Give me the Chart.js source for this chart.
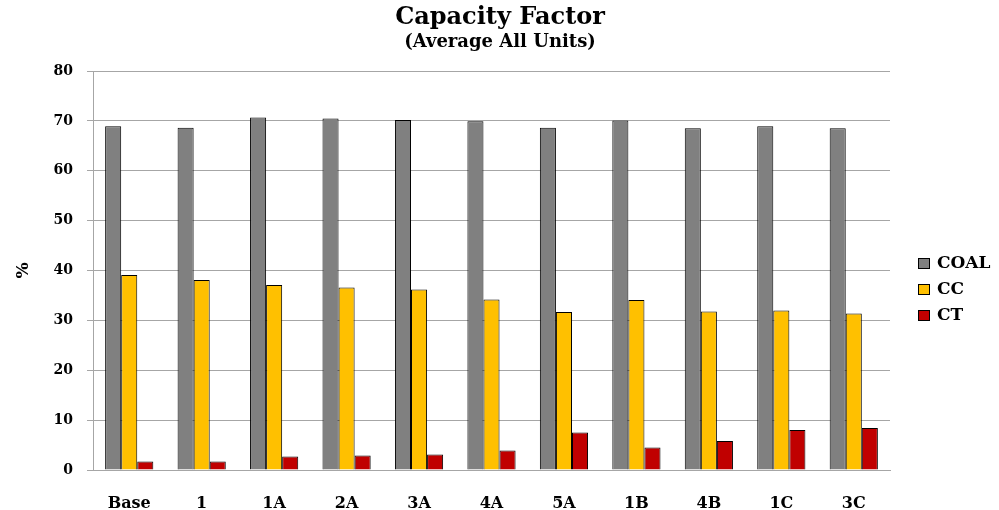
<!DOCTYPE html>
<html>
<head>
<meta charset="utf-8">
<script src="https://cdn.jsdelivr.net/npm/chart.js@4.4.1/dist/chart.umd.min.js"></script>
<style>
  html, body { margin: 0; padding: 0; background: #fff; }
  #wrap { width: 999px; height: 510px; }
</style>
</head>
<body>
<div id="wrap"><canvas id="chart" width="999" height="510"></canvas></div>
<script>
// data
const categories = ['Base', '1', '1A', '2A', '3A', '4A', '5A', '1B', '4B', '1C', '3C']
const coal = [68.9, 68.6, 70.7, 70.5, 70.2, 69.9, 68.6, 70.1, 68.5, 68.9, 68.5]
const cc = [39.1, 38.1, 37.1, 36.6, 36.2, 34.2, 31.7, 34.1, 31.8, 32.0, 31.4]
const ct = [1.7, 1.7, 2.7, 2.9, 3.1, 3.9, 7.5, 4.5, 5.8, 8.0, 8.4]
const seriesNames = ['COAL', 'CC', 'CT']
const seriesColors = ['#808080', '#FFC000', '#C00000']
const titleText = 'Capacity Factor'
const subtitleText = '(Average All Units)'

const serif = "'DejaVu Serif', 'Liberation Serif', serif"

// titles centred on the page and legend at the right
const decorations = {
    id: 'decorations',
    afterDraw(chart) {
        const ctx = chart.ctx
        ctx.save()
        ctx.fillStyle = '#000'
        ctx.textAlign = 'center'
        ctx.textBaseline = 'alphabetic'
        ctx.font = 'bold 24px ' + serif
        ctx.fillText(titleText, 500, 24)
        ctx.font = 'bold 18px ' + serif
        ctx.fillText(subtitleText, 500, 47)

        ctx.textAlign = 'left'
        ctx.textBaseline = 'middle'
        ctx.font = 'bold 17px ' + serif
        chart.data.datasets.forEach((ds, i) => {
            const y = 263 + i * 26
            ctx.fillStyle = ds.backgroundColor
            ctx.fillRect(918, y - 5, 12, 11)
            ctx.strokeStyle = '#000'
            ctx.lineWidth = 1
            ctx.strokeRect(918.5, y - 4.5, 11, 10)
            ctx.fillStyle = '#000'
            ctx.fillText(ds.label, 937, y + 1)
        })
        ctx.restore()
    }
}

const datasets = [coal, cc, ct].map((vals, i) => ({
    label: seriesNames[i],
    data: vals,
    backgroundColor: seriesColors[i],
    borderColor: '#000',
    borderWidth: 1,
    borderSkipped: 'bottom',
    categoryPercentage: 0.665,
    barPercentage: 1.0
}))

new Chart(document.getElementById('chart'), {
    type: 'bar',
    data: { labels: categories, datasets: datasets },
    options: {
        responsive: false,
        animation: false,
        layout: { padding: { left: 0, right: 109, top: 71, bottom: 0 } },
        plugins: {
            legend: { display: false },
            tooltip: { enabled: false }
        },
        scales: {
            x: {
                grid: { display: false },
                border: { display: true, color: '#a6a6a6', width: 1 },
                ticks: {
                    color: '#000',
                    font: { family: serif, size: 16, weight: 'bold' },
                    padding: 16,
                    maxRotation: 0
                },
                afterFit(scale) { scale.height = 40 }
            },
            y: {
                min: 0,
                max: 80,
                ticks: {
                    stepSize: 10,
                    color: '#000',
                    font: { family: serif, size: 14, weight: 'bold' },
                    padding: 14
                },
                grid: { color: '#a6a6a6', lineWidth: 1, tickLength: 6 },
                border: { display: true, color: '#a6a6a6', width: 1 },
                title: {
                    display: true,
                    text: '%',
                    color: '#000',
                    font: { family: serif, size: 17, weight: 'bold' },
                    padding: { top: 13, bottom: 0 }
                },
                afterFit(scale) { scale.width = 93 }
            }
        }
    },
    plugins: [decorations]
})
</script>
</body>
</html>
